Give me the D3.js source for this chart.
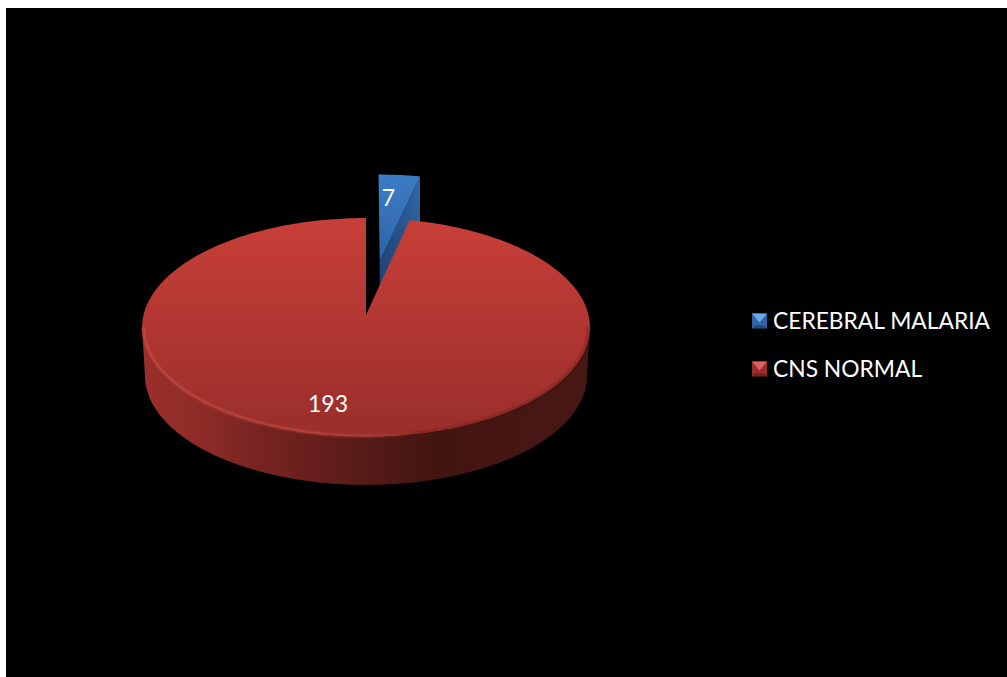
<!DOCTYPE html>
<html>
<head>
<meta charset="utf-8">
<script src="https://cdn.jsdelivr.net/npm/d3@7"></script>
<style>
  html, body { margin: 0; padding: 0; background: #fff; overflow: hidden; }
  svg { display: block; }
  text { font-family: Lato, "Open Sans", sans-serif; fill: #fff; }
</style>
</head>
<body>
<svg id="chart" width="1007" height="677"></svg>
<script>
// Chart content
const categories = ["CEREBRAL MALARIA", "CNS NORMAL"];
const values = [7, 193];
const explodeBy = [0.53, 0];
const faceColors = [["#3d7cc6", "#2f64a6"], ["#c83f39", "#992e2a"]];
const markerColors = [["#6fa8e4", "#2f66a8"], ["#e0625c", "#a8322e"]];

// Pie geometry: a tilted disc seen in perspective
const apex = [366, 315];
const persp = { k: 222.5, m: 108, c: 0.114 };
const depth = 48;
const explodedShiftX = 1.5;

function project(wx, wy) {
  const d = 1 + persp.c * wy;
  return [apex[0] + persp.k * wx / d, apex[1] - persp.m * wy / d];
}
// Point on a slice at polar position (radius r, angle a) with the slice pushed out along its bisector
function slicePoint(slice, explode, r, a) {
  const mid = (slice.startAngle + slice.endAngle) / 2;
  const p = project(explode * Math.sin(mid) + r * Math.sin(a), explode * Math.cos(mid) + r * Math.cos(a));
  return explode > 0 ? [p[0] + explodedShiftX, p[1]] : p;
}

const svg = d3.select("#chart");
const defs = svg.append("defs");

function linearGradient(id, x1, y1, x2, y2, stops) {
  const g = defs.append("linearGradient").attr("id", id)
    .attr("x1", x1).attr("y1", y1).attr("x2", x2).attr("y2", y2);
  stops.forEach(([o, c, op]) => {
    const s = g.append("stop").attr("offset", o).attr("stop-color", c);
    if (op !== undefined) s.attr("stop-opacity", op);
  });
  return `url(#${id})`;
}

faceColors.forEach((c, i) => linearGradient(`face${i}`, 0, 0, 0, 1, [[0, c[0]], [1, c[1]]]));
const cutFill = linearGradient("cutBlue", 0, 1, 1, 0, [[0, "#1f3f70"], [0.55, "#28528a"], [1, "#3368a8"]]);
const wallFill = linearGradient("wallRed", 0, 0, 1, 0, [
  [0, "#9a2f2b"], [0.12, "#8f2c28"], [0.28, "#752320"], [0.42, "#621e1b"],
  [0.52, "#521a17"], [0.65, "#431512"], [1, "#471714"]
]);
const rimFill = linearGradient("rimLight", 0, 0, 1, 0, [
  [0, "#dc5a54", 0.7], [0.35, "#dc5a54", 0.7], [0.55, "#d8554f", 0.4],
  [0.62, "#4a1613", 0.35], [1, "#4a1613", 0.5]
]);
defs.append("filter").attr("id", "soft").append("feGaussianBlur").attr("stdDeviation", 0.9);

// Page frame: white margin on the left and top, black plot area
svg.append("rect").attr("x", 6).attr("y", 8).attr("width", 1001).attr("height", 669).attr("fill", "#000");

const pie = d3.pie().sort(null).value(d => d).startAngle(0).endAngle(2 * Math.PI);
const slices = pie(values);
const line = d3.line();
const samples = (a0, a1, n = 160) => d3.range(n + 1).map(i => a0 + (a1 - a0) * i / n);

const blue = slices[0], red = slices[1];
const zBlue = explodeBy[0], zRed = explodeBy[1];

// Exploded slice: its cut face first, then its top
const bApex = slicePoint(blue, zBlue, 0, 0);
const bRim = slicePoint(blue, zBlue, 1, blue.endAngle);
svg.append("path")
  .attr("d", line([bApex, bRim, [bRim[0], bRim[1] + depth], [bApex[0], bApex[1] + depth]]) + "Z")
  .attr("fill", cutFill);
svg.append("path")
  .attr("d", line([bApex, ...samples(blue.startAngle, blue.endAngle, 20).map(a => slicePoint(blue, zBlue, 1, a))]) + "Z")
  .attr("fill", "url(#face0)");

// Outer wall of the large slice, running between the disc's widest points
const widest = Math.acos(-persp.c);
const wallAngles = samples(widest, 2 * Math.PI - widest);
const wallTop = wallAngles.map(a => slicePoint(red, zRed, 1, a));
const wallBottom = wallAngles.map(a => {
  const p = slicePoint(red, zRed, 1, a);
  return [apex[0] + (p[0] - apex[0]) * 0.987, p[1] + depth];
}).reverse();
svg.append("path").attr("d", line([...wallTop, ...wallBottom]) + "Z").attr("fill", wallFill);

// Top of the large slice
const redRim = samples(red.startAngle, red.endAngle, 300).map(a => slicePoint(red, zRed, 1, a));
svg.append("path").attr("d", line([apex, ...redRim]) + "Z").attr("fill", "url(#face1)");

// Soft bevel along the front edge
svg.append("path")
  .attr("d", line(samples(widest, 2 * Math.PI - widest).map(a => slicePoint(red, zRed, 0.994, a))))
  .attr("fill", "none").attr("stroke", rimFill).attr("stroke-width", 2).attr("filter", "url(#soft)");

// Value labels
const labelAnchors = [[388.5, 206], [328, 412]];
svg.selectAll("text.value").data(values).join("text")
  .attr("class", "value")
  .attr("x", (d, i) => labelAnchors[i][0])
  .attr("y", (d, i) => labelAnchors[i][1])
  .attr("text-anchor", "middle")
  .attr("font-size", 23)
  .text(d => d);

// Legend with small bevelled markers
const legendY = d3.scalePoint().domain(categories).range([321, 369]);
const markerSize = 15;
const legend = svg.selectAll("g.legend").data(categories).join("g")
  .attr("class", "legend")
  .attr("transform", d => `translate(752,${legendY(d) - markerSize / 2})`);
legend.each(function (d, i) {
  const g = d3.select(this);
  const s = markerSize;
  g.append("rect").attr("width", s).attr("height", s).attr("fill", faceColors[i][1]);
  g.append("path").attr("d", line([[0, 0], [s, 0], [s / 2, s * 0.6]]) + "Z").attr("fill", markerColors[i][0]);
  g.append("path").attr("d", line([[0, s], [s, s], [s - 3, s - 3], [3, s - 3]]) + "Z")
    .attr("fill", "#000").attr("fill-opacity", 0.25);
});
legend.append("text").attr("x", 21).attr("y", 15.5).attr("font-size", 22.8).text(d => d);
</script>
</body>
</html>
